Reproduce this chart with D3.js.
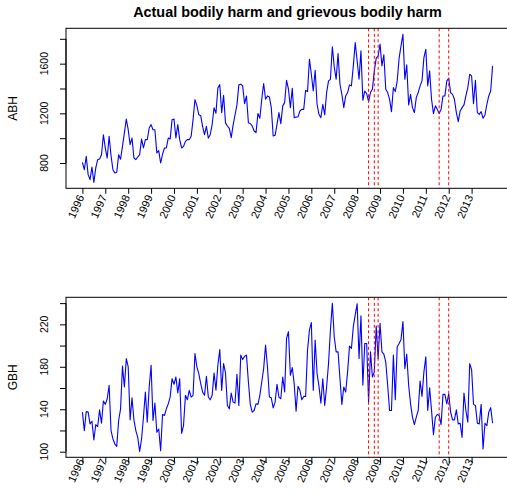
<!DOCTYPE html>
<html>
<head>
<meta charset="utf-8">
<script src="https://cdn.jsdelivr.net/npm/d3@7/dist/d3.min.js"></script>
<style>
  body { margin: 0; background: #fff; }
  svg { display: block; font-family: "Liberation Sans", Arial, sans-serif; }
</style>
</head>
<body>
<svg id="chart"></svg>
<script>
// monthly counts, Jan 1996 .. Dec 2013
const startYear = 1996;

const abh = [
  805, 746, 854, 706, 666, 768, 644, 760, 827, 832, 867, 1028,
  920, 840, 1015, 860, 746, 720, 725, 867, 830, 934, 1042, 1154,
  1068, 948, 1001, 840, 827, 848, 867, 993, 921, 988, 988, 1082,
  1109, 1068, 1068, 881, 900, 800, 870, 921, 921, 1001, 993, 1149,
  1154, 1001, 1109, 988, 921, 934, 974, 988, 988, 1015, 1149, 1310,
  1262, 1189, 1181, 1095, 1028, 1095, 1001, 1028, 1110, 1245, 1200, 1404,
  1431, 1205, 1345, 1123, 1098, 1079, 1004, 1107, 1187, 1268, 1429, 1434,
  1421, 1278, 1340, 1125, 1117, 1098, 1058, 1045, 1198, 1160, 1313, 1440,
  1313, 1340, 1332, 1246, 1018, 1023, 1111, 1206, 1117, 1260, 1286, 1466,
  1394, 1246, 1402, 1165, 1171, 1171, 1219, 1232, 1232, 1386, 1375, 1636,
  1515, 1380, 1547, 1273, 1192, 1165, 1273, 1187, 1367, 1461, 1474, 1736,
  1574, 1474, 1681, 1434, 1353, 1246, 1340, 1367, 1429, 1421, 1582, 1770,
  1623, 1474, 1703, 1305, 1380, 1359, 1294, 1367, 1394, 1542, 1644, 1663,
  1757, 1582, 1671, 1394, 1367, 1313, 1214, 1407, 1375, 1461, 1644, 1744,
  1837, 1474, 1590, 1268, 1353, 1246, 1206, 1327, 1367, 1421, 1461, 1649,
  1716, 1421, 1542, 1313, 1198, 1260, 1232, 1198, 1232, 1340, 1340, 1461,
  1482, 1367, 1353, 1313, 1206, 1133, 1219, 1246, 1268, 1340, 1407, 1515,
  1501, 1278, 1466, 1206, 1192, 1214, 1160, 1187, 1273, 1340, 1380, 1582
];

const gbh = [
  137.3, 119.9, 137.9, 137.3, 126.2, 128.7, 111, 125.6, 123.7, 139.4, 126.8, 147.7,
  144.6, 149.9, 162.6, 119.9, 112, 107.2, 105, 129.4, 140.4, 180.6, 161, 187.8,
  179.9, 130, 150.8, 130, 119.9, 113.5, 100.3, 112, 132.5, 156.2, 127.8, 161,
  181.5, 129.4, 145.8, 118.3, 121.4, 101, 135, 134.1, 140.4, 145.1, 151.5, 168.8,
  163.5, 170.4, 155.3, 168.8, 117.3, 124.6, 153.1, 148.9, 157.8, 151.5, 153.1, 192.5,
  179.9, 173.6, 164.1, 156.2, 153.1, 171.1, 151.5, 148.9, 153.1, 174.2, 158, 181.5,
  196.3, 157.8, 183, 174.2, 143.6, 140.4, 155.3, 146.7, 145.8, 173, 143.6, 191,
  186.9, 190, 191, 165.7, 144.6, 137.3, 138.8, 145.1, 144.6, 153.1, 165.7, 178.3,
  200.5, 179.9, 151.5, 150.8, 141.3, 146.7, 163.5, 151.5, 149.9, 170.4, 156.2, 206.7,
  213.1, 172, 179.2, 164.1, 138.2, 161.6, 157.8, 148.9, 152.1, 152.1, 195.7, 214.7,
  221.6, 157.8, 205.2, 173.6, 161.6, 145.8, 168.8, 143.6, 161, 183, 214.7, 239.9,
  208.3, 194.1, 194.1, 168.8, 144.6, 161, 156.2, 175.2, 199.5, 197.3, 217.8, 228.9,
  239.3, 187.8, 228, 162.6, 202, 202, 146.7, 194.1, 170.4, 175.2, 218.5, 187.8,
  221, 194.1, 191.9, 184.6, 162.6, 138.8, 138.8, 191, 148.9, 198.9, 202, 205.8,
  222.6, 178.3, 191.9, 162.6, 145.1, 132.5, 125.6, 132.5, 138.8, 166.6, 152.1, 175.2,
  189.4, 138.8, 160.3, 138.8, 116.1, 132.5, 135, 134.1, 125.6, 154, 154, 145.1,
  154.6, 137.3, 130, 130, 139.4, 126.2, 126.8, 113.5, 155.3, 138.8, 127.8, 183,
  177.4, 144.6, 143.6, 126.8, 126.2, 144.6, 102.5, 126.8, 124.6, 137.3, 141.5, 126.8
];

const yearTicks = d3.range(1996, 2014);
const eventLines = [2008.5, 2008.75, 2008.917, 2011.583, 2012.0];

const abhTicks = [800, 1000, 1200, 1400, 1600, 1800];
const abhLabels = [800, 1200, 1600];
const gbhTicks = [100, 120, 140, 160, 180, 200, 220, 240];
const gbhLabels = [100, 140, 180, 220];

const width = 507, height = 492;
const svg = d3.select("#chart").attr("width", width).attr("height", height);

const left = 66, right = 509;

const times = abh.map((d, i) => startYear + i / 12);
const tMin = d3.min(times), tMax = d3.max(times);
const tPad = (tMax - tMin) * 0.04;
const x = d3.scaleLinear().domain([tMin - tPad, tMax + tPad]).range([left, right]);

svg.append("text")
    .attr("x", (left + right) / 2)
    .attr("y", 17)
    .attr("text-anchor", "middle")
    .attr("font-size", "14.4px")
    .attr("font-weight", "bold")
    .text("Actual bodily harm and grievous bodily harm");

const panels = [
  { name: "ABH", values: abh, top: 28.3, bottom: 188.3, ticks: abhTicks, labels: abhLabels, labelY: 197 },
  { name: "GBH", values: gbh, top: 297.3, bottom: 457.3, ticks: gbhTicks, labels: gbhLabels, labelY: 461 }
];

panels.forEach(p => {
    const ext = d3.extent(p.values);
    const pad = (ext[1] - ext[0]) * 0.04;
    const y = d3.scaleLinear().domain([ext[0] - pad, ext[1] + pad]).range([p.bottom, p.top]);

    const g = svg.append("g");

    // series line
    const line = d3.line()
        .x((d, i) => x(times[i]))
        .y(d => y(d));
    g.append("path")
        .datum(p.values)
        .attr("fill", "none")
        .attr("stroke", "#0000ff")
        .attr("stroke-width", 1.1)
        .attr("stroke-linejoin", "round")
        .attr("d", line);

    // event markers
    g.selectAll("line.event")
        .data(eventLines)
        .enter()
        .append("line")
        .attr("x1", d => x(d))
        .attr("x2", d => x(d))
        .attr("y1", p.top)
        .attr("y2", p.bottom)
        .attr("stroke", "#ff0000")
        .attr("stroke-width", 1)
        .attr("stroke-dasharray", "3,2.5");

    // box
    g.append("rect")
        .attr("x", left)
        .attr("y", p.top)
        .attr("width", right - left)
        .attr("height", p.bottom - p.top)
        .attr("fill", "none")
        .attr("stroke", "#000");

    // y axis
    const yAxis = d3.axisLeft(y)
        .tickValues(p.ticks)
        .tickSize(6)
        .tickFormat(d => "");
    const ya = g.append("g")
        .attr("transform", `translate(${left},0)`)
        .call(yAxis);
    ya.select(".domain").attr("d", `M0,${y(p.ticks[0])}V${y(p.ticks[p.ticks.length - 1])}`);

    g.selectAll("text.ylab")
        .data(p.labels)
        .enter()
        .append("text")
        .attr("transform", d => `translate(48,${y(d)}) rotate(-90)`)
        .attr("text-anchor", "middle")
        .attr("font-size", "10.5px")
        .text(d => d);

    g.append("text")
        .attr("transform", `translate(16.5,${(p.top + p.bottom) / 2}) rotate(-90)`)
        .attr("text-anchor", "middle")
        .attr("font-size", "12px")
        .text(p.name);

    // x axis
    const xAxis = d3.axisBottom(x)
        .tickValues(yearTicks)
        .tickSize(5.5)
        .tickFormat(d => "");
    const xa = g.append("g")
        .attr("transform", `translate(0,${p.bottom})`)
        .call(xAxis);
    xa.select(".domain").remove();

    g.selectAll("text.xlab")
        .data(yearTicks)
        .enter()
        .append("text")
        .attr("transform", d => `translate(${x(d) + 2},${p.labelY}) rotate(-66)`)
        .attr("text-anchor", "end")
        .attr("font-size", "11px")
        .text(d => d);
});
</script>
</body>
</html>
